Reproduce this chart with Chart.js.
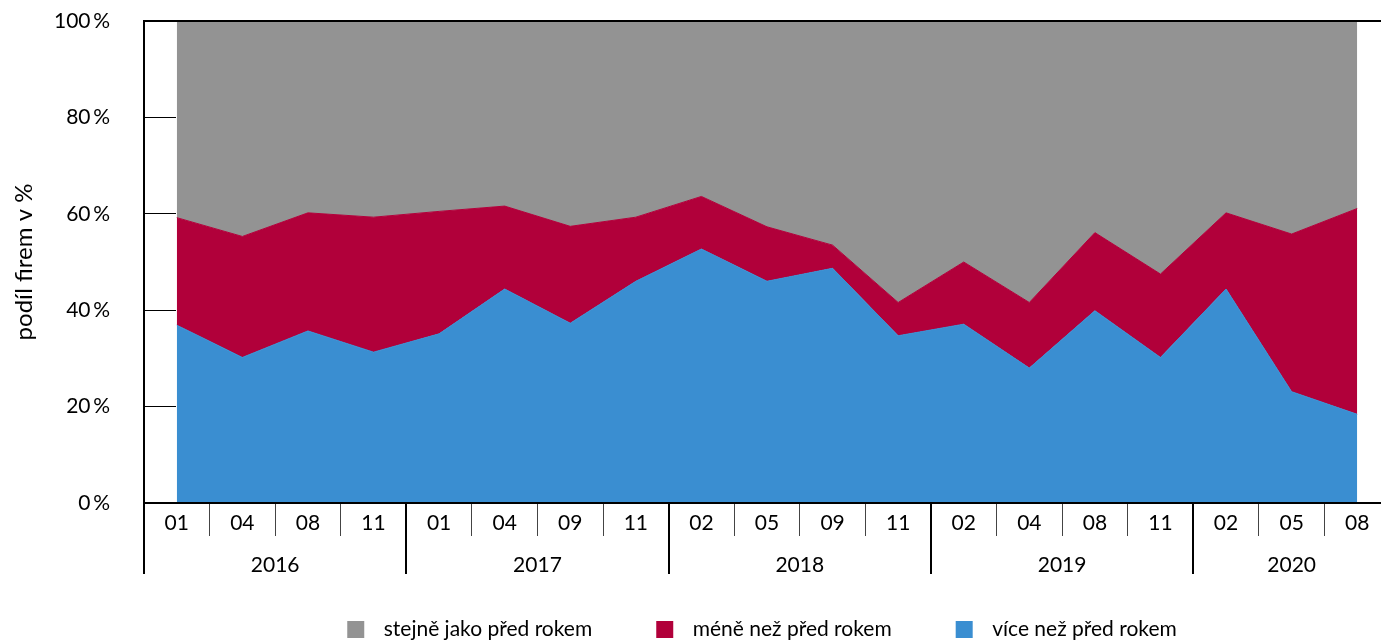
<!DOCTYPE html>
<html lang="cs">
<head>
<meta charset="utf-8">
<title>Podíl firem</title>
<script src="https://cdn.jsdelivr.net/npm/chart.js@4.4.1/dist/chart.umd.min.js"></script>
<style>
  html, body { margin: 0; padding: 0; background: #fff; overflow: hidden; width: 1381px; height: 640px; }
  #wrap { position: relative; width: 1470px; height: 650px; }
</style>
</head>
<body>
<div id="wrap"><canvas id="chart"></canvas></div>
<script>
// months of each survey, grouped by year
const months = ['01', '04', '08', '11', '01', '04', '09', '11', '02', '05', '09', '11', '02', '04', '08', '11', '02', '05', '08'];
const years = ['2016', '2017', '2018', '2019', '2020'];
const monthsPerYear = [4, 4, 4, 4, 3];

// shares of firms in %
const vice = [36.9, 30.2, 35.7, 31.3, 35.1, 44.4, 37.3, 46.0, 52.7, 46.0, 48.7, 34.7, 37.1, 28.0, 39.9, 30.2, 44.4, 23.1, 18.4];
const mene = [22.3, 25.1, 24.5, 28.0, 25.4, 17.2, 20.1, 13.3, 10.9, 11.3, 4.8, 6.9, 12.9, 13.6, 16.2, 17.3, 15.8, 32.7, 42.7];
const stejne = [40.8, 44.7, 39.8, 40.7, 39.5, 38.4, 42.6, 40.7, 36.4, 42.7, 46.5, 58.4, 50.0, 58.4, 43.9, 52.5, 39.8, 44.2, 38.9];

const yTicks = [0, 20, 40, 60, 80, 100];

const GREY = '#939393';
const RED = '#b1003a';
const BLUE = '#3a8ed1';
const FONT = 'Lato';
const NONE = 'rgba(0,0,0,0)';

// year boundaries and year centres on the category index scale
const yearEdges = [-0.5];
monthsPerYear.forEach(n => yearEdges.push(yearEdges[yearEdges.length - 1] + n));
const yearCentres = years.map((y, i) => (yearEdges[i] + yearEdges[i + 1]) / 2);
const yearTickValues = yearEdges.concat(yearCentres).sort((a, b) => a - b);
const monthEdgeIdx = yearEdges.slice(0, -1).map(v => v + 0.5);

// legend marker: square at the right end of a transparent strip
const LEGEND_W = 80;
function legendSquare(color) {
    const c = document.createElement('canvas');
    c.width = LEGEND_W;
    c.height = 17;
    const g = c.getContext('2d');
    g.fillStyle = color;
    g.fillRect(LEGEND_W - 26, 0, 17, 17);
    return c;
}

function area(label, data, color, fill) {
    return {
        label: label,
        data: data,
        xAxisID: 'x',
        yAxisID: 'y',
        backgroundColor: color,
        borderColor: color,
        borderWidth: 1,
        fill: fill,
        tension: 0,
        pointRadius: 0,
        pointHoverRadius: 0,
        pointStyle: legendSquare(color)
    };
}

Chart.defaults.font.family = FONT;
Chart.defaults.font.size = 21;
Chart.defaults.color = '#000';

new Chart(document.getElementById('chart'), {
    type: 'line',
    data: {
        labels: months,
        datasets: [
            area('více než před rokem', vice, BLUE, 'origin'),
            area('méně než před rokem', mene, RED, '-1'),
            area('stejně jako před rokem', stejne, GREY, '-1')
        ]
    },
    options: {
        responsive: true,
        maintainAspectRatio: false,
        animation: false,
        events: [],
        layout: { padding: { top: 21, left: 0, right: 0, bottom: 0 } },
        plugins: {
            tooltip: { enabled: false },
            legend: {
                position: 'bottom',
                reverse: true,
                labels: {
                    usePointStyle: true,
                    pointStyleWidth: LEGEND_W,
                    boxHeight: 17,
                    padding: 10,
                    font: { family: FONT, size: 21 },
                    color: '#000'
                }
            }
        },
        scales: {
            y: {
                stacked: true,
                min: 0,
                max: 100,
                weight: 1,
                afterBuildTicks: s => { s.ticks = yTicks.map(v => ({ value: v })); },
                afterFit: s => { s.width = 144; },
                grid: { drawOnChartArea: false, tickLength: 34, tickColor: NONE },
                border: { color: '#000', width: 2, z: 1 },
                ticks: {
                    padding: 0,
                    callback: v => v + '\u2009%'
                },
                title: {
                    display: true,
                    text: 'podíl firem v %',
                    font: { family: FONT, size: 24 },
                    padding: { top: 10, bottom: 0 }
                }
            },
            // short inward marks from the axis to the first survey only
            yStub: {
                type: 'linear',
                position: 'left',
                weight: 0,
                min: 0,
                max: 100,
                afterBuildTicks: s => { s.ticks = yTicks.map(v => ({ value: v })); },
                afterFit: s => { s.width = 0; },
                grid: { drawOnChartArea: false, tickLength: -32, color: '#000', lineWidth: 1 },
                border: { display: false },
                ticks: { display: false }
            },
            yR: {
                type: 'linear',
                position: 'right',
                min: 0,
                max: 1,
                grid: { display: false, drawTicks: false },
                border: { display: false },
                ticks: { display: false },
                afterFit: s => { s.width = 1470 - 1390; }
            },
            xTop: {
                type: 'linear',
                position: 'top',
                min: 0,
                max: 1,
                grid: { display: false, drawTicks: false },
                ticks: { display: false },
                afterFit: s => { s.height = 0; },
                border: { color: '#000', width: 2, z: 1 }
            },
            x: {
                offset: true,
                weight: 0,
                afterFit: s => { s.height = 29; },
                grid: {
                    offset: true,
                    drawOnChartArea: false,
                    tickLength: 33,
                    color: ctx => monthEdgeIdx.includes(ctx.index) ? '#000' : '#444',
                    lineWidth: ctx => monthEdgeIdx.includes(ctx.index) ? 2 : 1
                },
                border: { color: '#000', width: 2, z: 1 },
                ticks: { padding: -25, maxRotation: 0, autoSkip: false }
            },
            xYear: {
                type: 'linear',
                position: 'bottom',
                weight: 1,
                min: yearEdges[0],
                max: yearEdges[yearEdges.length - 1],
                afterBuildTicks: s => { s.ticks = yearTickValues.map(v => ({ value: v })); },
                afterFit: s => { s.height = 77; },
                grid: {
                    drawOnChartArea: false,
                    tickLength: 42,
                    color: ctx => (ctx.tick && yearEdges.includes(ctx.tick.value)) ? '#000' : NONE,
                    lineWidth: 2
                },
                border: { display: false },
                ticks: {
                    padding: -21,
                    maxRotation: 0,
                    autoSkip: false,
                    callback: v => {
                        const i = yearCentres.indexOf(v);
                        return i >= 0 ? years[i] : '';
                    }
                }
            }
        }
    }
});
</script>
</body>
</html>
